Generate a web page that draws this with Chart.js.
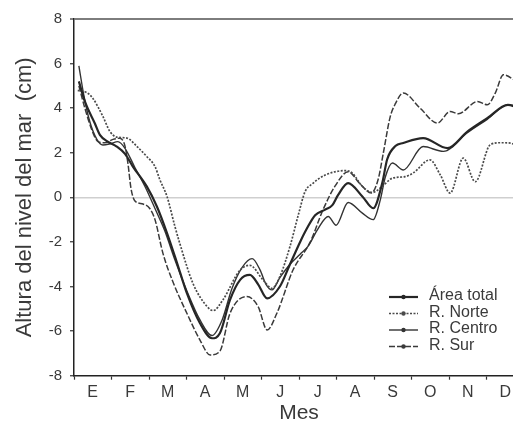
<!DOCTYPE html>
<html>
<head>
<meta charset="utf-8">
<script src="https://cdn.jsdelivr.net/npm/chart.js@4.4.1/dist/chart.umd.min.js"></script>
<style>
  html, body { margin: 0; padding: 0; background: #fff; overflow: hidden; }
  #wrap { position: relative; width: 528px; height: 428px; }
</style>
</head>
<body>
<div id="wrap"><canvas id="nivel"></canvas></div>
<script>
const meses = ["E", "F", "M", "A", "M", "J", "J", "A", "S", "O", "N", "D"];
const yTicks = [-8, -6, -4, -2, 0, 2, 4, 6, 8];

// x = months since 1 January, y = sea level anomaly (cm)
const totalMes = [0.13, 0.29, 0.56, 0.69, 0.90, 1.14, 1.36, 1.57, 1.94, 2.21, 2.48, 2.74, 3.01, 3.36, 3.68, 3.89, 4.16, 4.43, 4.69, 4.91, 5.15, 5.49, 5.76, 6.03, 6.21, 6.43, 6.70, 6.89, 7.04, 7.31, 7.69, 7.98, 8.22, 8.35, 8.57, 8.78, 9.31, 9.96, 10.49, 11.02, 11.57, 11.8];
const totalNivel = [5.2, 4.3, 3.3, 2.8, 2.5, 2.28, 1.95, 1.38, 0.49, -0.41, -1.6, -2.9, -4.3, -5.65, -6.32, -6.1, -4.6, -3.7, -3.48, -3.9, -4.53, -4.0, -3.0, -2.0, -1.4, -0.8, -0.55, -0.35, 0.1, 0.64, 0.04, -0.49, 0.64, 1.7, 2.3, 2.44, 2.66, 2.21, 2.95, 3.55, 4.15, 4.05];

const norteMes = [0.10, 0.34, 0.50, 0.77, 0.96, 1.14, 1.41, 1.68, 1.94, 2.16, 2.29, 2.48, 2.69, 2.82, 3.17, 3.55, 3.71, 3.97, 4.43, 4.69, 5.04, 5.28, 5.49, 5.76, 5.98, 6.16, 6.35, 6.70, 7.23, 7.42, 7.69, 7.96, 8.22, 8.49, 8.83, 9.05, 9.49, 9.77, 10.03, 10.38, 10.70, 11.10, 11.37, 11.65, 11.8];
const norteNivel = [4.8, 4.7, 4.45, 3.63, 2.95, 2.7, 2.66, 2.28, 1.83, 1.38, 0.79, 0.04, -1.3, -2.06, -3.85, -4.9, -5.08, -4.6, -3.26, -3.05, -3.7, -4.08, -3.55, -2.2, -0.8, 0.25, 0.6, 1.0, 1.2, 1.09, 0.49, 0.22, 0.49, 0.86, 0.93, 1.1, 1.68, 1.0, 0.19, 1.76, 0.7, 2.36, 2.45, 2.43, 2.3];

const centroMes = [0.13, 0.26, 0.42, 0.61, 0.77, 0.96, 1.17, 1.36, 1.62, 1.89, 2.16, 2.42, 2.69, 3.01, 3.36, 3.68, 3.95, 4.21, 4.48, 4.75, 4.96, 5.12, 5.28, 5.49, 5.76, 6.03, 6.24, 6.51, 6.78, 6.99, 7.31, 7.69, 7.98, 8.17, 8.30, 8.49, 8.78, 9.31, 9.85, 10.49, 11.02, 11.57, 11.8];
const centroNivel = [5.9, 4.6, 3.4, 2.6, 2.35, 2.4, 2.5, 2.2, 1.35, 0.5, -0.5, -1.5, -2.8, -4.2, -5.5, -6.2, -5.5, -4.1, -3.15, -2.75, -3.25, -3.9, -4.15, -3.6, -3.0, -2.55, -2.2, -1.4, -0.86, -1.25, -0.23, -0.71, -1.0, -0.1, 0.9, 1.54, 1.23, 2.28, 2.06, 2.9, 3.5, 4.15, 4.1];

const surMes = [0.13, 0.29, 0.48, 0.64, 0.82, 1.04, 1.22, 1.36, 1.44, 1.52, 1.62, 1.84, 2.02, 2.16, 2.37, 2.64, 3.01, 3.36, 3.63, 3.89, 4.16, 4.61, 4.91, 5.15, 5.41, 5.84, 6.30, 6.64, 6.96, 7.31, 7.63, 7.93, 8.11, 8.25, 8.43, 8.57, 8.78, 9.23, 9.69, 10.03, 10.25, 10.76, 11.02, 11.24, 11.45, 11.8];
const surNivel = [5.0, 4.0, 3.0, 2.5, 2.45, 2.6, 2.65, 2.3, 1.5, 0.4, -0.15, -0.3, -0.5, -1.0, -2.5, -3.8, -5.2, -6.4, -7.07, -6.9, -5.2, -4.45, -4.9, -5.95, -5.2, -3.26, -2.0, -0.56, 0.5, 1.15, 0.6, 0.2, 0.8, 2.0, 3.6, 4.2, 4.68, 4.0, 3.33, 3.85, 3.75, 4.3, 4.15, 4.7, 5.5, 5.2];

const puntos = (xs, ys) => xs.map((x, i) => ({ x: x, y: ys[i] }));

const FUENTE = '"Liberation Sans", Arial, sans-serif';
Chart.defaults.font.family = FUENTE;
Chart.defaults.color = "#3a3a3a";

// legend inside the plot: line sample with a dot in the middle
const leyenda = {
  id: "leyenda",
  afterDatasetsDraw(chart) {
    const ctx = chart.ctx;
    ctx.save();
    ctx.font = "16px " + FUENTE;
    ctx.textBaseline = "middle";
    chart.data.datasets.forEach((ds, i) => {
      const y = 297 + i * 16.5;
      ctx.strokeStyle = ds.borderColor;
      ctx.lineWidth = ds.borderWidth;
      ctx.setLineDash(ds.borderDash || []);
      ctx.beginPath();
      ctx.moveTo(389, y);
      ctx.lineTo(418, y);
      ctx.stroke();
      ctx.setLineDash([]);
      ctx.fillStyle = ds.borderColor;
      ctx.beginPath();
      ctx.arc(403.5, y, 2.2, 0, Math.PI * 2);
      ctx.fill();
      ctx.fillStyle = "#3a3a3a";
      ctx.fillText(ds.label, 429, y - 1);
    });
    ctx.restore();
  }
};

new Chart(document.getElementById("nivel"), {
  type: "line",
  data: {
    datasets: [
      { label: "Área total", data: puntos(totalMes, totalNivel), borderColor: "#262626", borderWidth: 2.2 },
      { label: "R. Norte", data: puntos(norteMes, norteNivel), borderColor: "#4a4a4a", borderWidth: 1.7, borderDash: [2, 1.5] },
      { label: "R. Centro", data: puntos(centroMes, centroNivel), borderColor: "#333", borderWidth: 1.4 },
      { label: "R. Sur", data: puntos(surMes, surNivel), borderColor: "#3a3a3a", borderWidth: 1.5, borderDash: [6, 2] }
    ]
  },
  options: {
    responsive: true,
    maintainAspectRatio: false,
    animation: false,
    layout: { padding: { top: 19, right: 4, left: 0, bottom: 0 } },
    elements: {
      point: { radius: 0 },
      line: { cubicInterpolationMode: "monotone", fill: false }
    },
    plugins: { legend: { display: false }, tooltip: { enabled: false } },
    scales: {
      x: {
        type: "linear",
        min: 0,
        max: 12,
        afterBuildTicks: (s) => { s.ticks = meses.map((_, i) => ({ value: i })); },
        afterFit: (s) => { s.height = 52.3; },
        ticks: {
          callback: (v) => meses[v],
          labelOffset: 18.7,
          padding: 3,
          autoSkip: false,
          maxRotation: 0,
          font: { size: 16 }
        },
        grid: { drawOnChartArea: false, tickLength: 4, color: "#333", tickWidth: 1.2 },
        border: { color: "#222", width: 1.5 },
        title: { display: true, text: "Mes", font: { size: 21 }, padding: { top: 0, bottom: 2 } }
      },
      y: {
        min: -8,
        max: 8,
        afterBuildTicks: (s) => { s.ticks = yTicks.map((v) => ({ value: v })); },
        afterFit: (s) => { s.width = 74; },
        ticks: { padding: 8, font: { size: 15 } },
        grid: {
          drawOnChartArea: true,
          tickLength: 4,
          color: (c) => c.tick && c.tick.value === 0 ? "#cfcfcf" : (c.tick && c.tick.value === 8 ? "#7d7d7d" : "rgba(0,0,0,0)"),
          lineWidth: (c) => c.tick && c.tick.value === 8 ? 2 : 1.5,
          tickColor: "#333",
          tickWidth: 1.2
        },
        border: { color: "#222", width: 1.5 },
        title: { display: true, text: "Altura del nivel del mar  (cm)", font: { size: 22 }, padding: { top: 12, bottom: 0 } }
      }
    }
  },
  plugins: [leyenda]
});
</script>
</body>
</html>
